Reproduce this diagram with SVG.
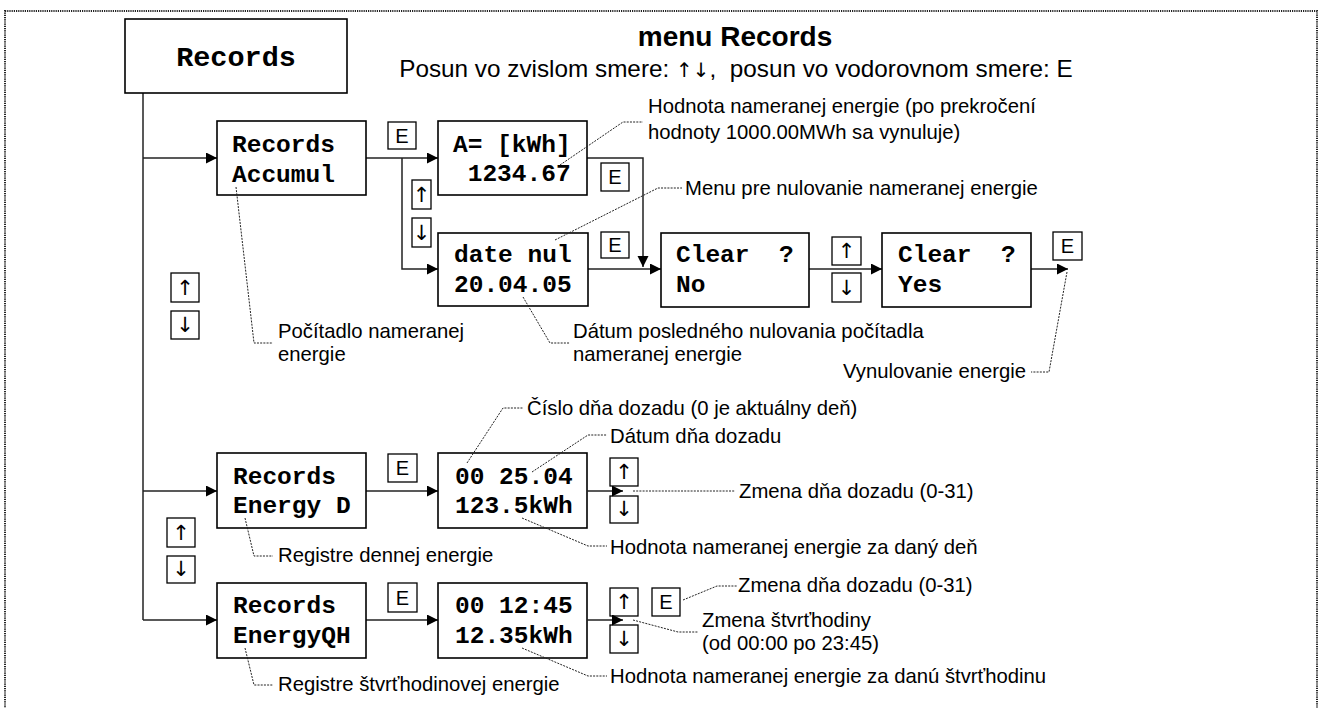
<svg xmlns="http://www.w3.org/2000/svg" width="1321" height="708" viewBox="0 0 1321 708">
<defs>
<marker id="ah" markerUnits="userSpaceOnUse" markerWidth="12" markerHeight="12" refX="11" refY="5.5" orient="auto">
<path d="M0,0 L11,5.5 L0,11 z" fill="#000"/>
</marker>
<style>
.box{fill:#fff;stroke:#000;stroke-width:1.6}
.btn{fill:#fff;stroke:#000;stroke-width:1.3}
.mono{font-family:"Liberation Mono","Courier New",monospace;font-weight:bold;font-size:24.5px;fill:#000}
.lbl{font-family:"Liberation Sans",Arial,sans-serif;font-size:20.3px;fill:#000}
.btxt{font-family:"Liberation Sans",Arial,sans-serif;font-size:20px;fill:#000;text-anchor:middle}
.arr{font-family:"DejaVu Sans",sans-serif;font-size:21px;fill:#000;text-anchor:middle}
.con{fill:none;stroke:#222;stroke-width:1.5}
.lead{fill:none;stroke:#222;stroke-width:1;stroke-dasharray:2,1.2}
</style>
</defs>
<rect x="5" y="11" width="1312" height="720" fill="none" stroke="#222" stroke-width="2" stroke-dasharray="1.2,1"/>

<g id="title">
<text x="735" y="46" font-family="Liberation Sans,Arial,sans-serif" font-weight="bold" font-size="28" text-anchor="middle">menu Records</text>
<text x="736" y="77" font-family="Liberation Sans,Arial,sans-serif" font-size="24.3" text-anchor="middle" xml:space="preserve">Posun vo zvislom smere: <tspan font-family="DejaVu Sans,sans-serif" font-size="20">↑↓</tspan>,  posun vo vodorovnom smere: E</text>
</g>

<g id="connectors">
<polyline class="con" points="143,93 143,620"/>
<line class="con" x1="143" y1="158" x2="217" y2="158" marker-end="url(#ah)"/>
<line class="con" x1="143" y1="491" x2="217" y2="491" marker-end="url(#ah)"/>
<line class="con" x1="143" y1="620" x2="217" y2="620" marker-end="url(#ah)"/>
<line class="con" x1="366" y1="158" x2="438" y2="158" marker-end="url(#ah)"/>
<polyline class="con" points="402,158 402,269 438,269" marker-end="url(#ah)"/>
<polyline class="con" points="587,158 643,158 643,267" marker-end="url(#ah)"/>
<line class="con" x1="588" y1="269" x2="661" y2="269" marker-end="url(#ah)"/>
<line class="con" x1="809" y1="269" x2="882" y2="269" marker-end="url(#ah)"/>
<line class="con" x1="1031" y1="269" x2="1068" y2="269" marker-end="url(#ah)"/>
<line class="con" x1="366" y1="491" x2="438" y2="491" marker-end="url(#ah)"/>
<line class="con" x1="366" y1="620" x2="438" y2="620" marker-end="url(#ah)"/>
</g>

<g id="n-records"><rect class="box" x="125" y="19" width="222" height="74"/>
<text x="236" y="66" font-family="Liberation Mono,Courier New,monospace" font-weight="bold" font-size="28.5" text-anchor="middle">Records</text></g>

<g id="n-accumul"><rect class="box" x="217" y="121" width="149" height="74"/>
<text class="mono" x="232" y="152">Records</text><text class="mono" x="232" y="182">Accumul</text></g>

<g id="n-akwh"><rect class="box" x="438" y="121" width="149" height="74"/>
<text class="mono" x="453" y="152" xml:space="preserve">A= [kWh]</text><text class="mono" x="453" y="181" xml:space="preserve"> 1234.67</text></g>

<g id="n-datenul"><rect class="box" x="438" y="233" width="150" height="73"/>
<text class="mono" x="454" y="262">date nul</text><text class="mono" x="454" y="292">20.04.05</text></g>

<g id="n-clearno"><rect class="box" x="661" y="233" width="148" height="74"/>
<text class="mono" x="676" y="262" xml:space="preserve">Clear  ?</text><text class="mono" x="676" y="292">No</text></g>

<g id="n-clearyes"><rect class="box" x="882" y="233" width="149" height="74"/>
<text class="mono" x="898" y="262" xml:space="preserve">Clear  ?</text><text class="mono" x="898" y="292">Yes</text></g>

<g id="n-energyd"><rect class="box" x="217" y="453" width="149" height="75"/>
<text class="mono" x="233" y="484">Records</text><text class="mono" x="233" y="513">Energy D</text></g>

<g id="n-dayval"><rect class="box" x="438" y="453" width="149" height="75"/>
<text class="mono" x="455" y="484">00 25.04</text><text class="mono" x="455" y="513">123.5kWh</text></g>

<g id="n-energyqh"><rect class="box" x="217" y="583" width="149" height="75"/>
<text class="mono" x="233" y="613">Records</text><text class="mono" x="233" y="643">EnergyQH</text></g>

<g id="n-qhval"><rect class="box" x="438" y="583" width="149" height="75"/>
<text class="mono" x="455" y="613">00 12:45</text><text class="mono" x="455" y="643">12.35kWh</text></g>

<g id="buttons">
<rect class="btn" x="388" y="122" width="28" height="27"/><text class="btxt" x="402" y="143">E</text>
<rect class="btn" x="601" y="163" width="28" height="28"/><text class="btxt" x="615" y="184">E</text>
<rect class="btn" x="601" y="232" width="28" height="26"/><text class="btxt" x="615" y="252">E</text>
<rect class="btn" x="1053" y="232" width="29" height="28"/><text class="btxt" x="1067.5" y="253">E</text>
<rect class="btn" x="388" y="454" width="29" height="28"/><text class="btxt" x="402.5" y="475">E</text>
<rect class="btn" x="388" y="583" width="29" height="29"/><text class="btxt" x="402.5" y="605">E</text>
<rect class="btn" x="652" y="588" width="28" height="28"/><text class="btxt" x="666" y="609">E</text>

<rect class="btn" x="171" y="273" width="28" height="29"/><text class="arr" x="185" y="295">↑</text>
<rect class="btn" x="171" y="311" width="28" height="28"/><text class="arr" x="185" y="332">↓</text>
<rect class="btn" x="167" y="518" width="28" height="29"/><text class="arr" x="181" y="540">↑</text>
<rect class="btn" x="167" y="556" width="28" height="27"/><text class="arr" x="181" y="576">↓</text>
<rect class="btn" x="412" y="180" width="19" height="29"/><text class="arr" x="421.5" y="202">↑</text>
<rect class="btn" x="412" y="218" width="19" height="29"/><text class="arr" x="421.5" y="240">↓</text>
<rect class="btn" x="832" y="237" width="29" height="28"/><text class="arr" x="846.5" y="258">↑</text>
<rect class="btn" x="832" y="273" width="29" height="29"/><text class="arr" x="846.5" y="295">↓</text>
<rect class="btn" x="610" y="458" width="28" height="28"/><text class="arr" x="624" y="479">↑</text>
<rect class="btn" x="610" y="496" width="28" height="27"/><text class="arr" x="624" y="516">↓</text>
<rect class="btn" x="610" y="588" width="28" height="28"/><text class="arr" x="624" y="609">↑</text>
<rect class="btn" x="610" y="625" width="28" height="28"/><text class="arr" x="624" y="646">↓</text>
</g>

<g id="connectors-exit">
<line class="con" x1="587" y1="491" x2="623" y2="491" marker-end="url(#ah)"/>
<line class="con" x1="587" y1="620" x2="623" y2="620" marker-end="url(#ah)"/>
</g>

<g id="leaders">
<polyline class="lead" points="560,165 623,122 643,122"/>
<polyline class="lead" points="555,240 658,188 682,188"/>
<polyline class="lead" points="236,187 254,343 273,343"/>
<polyline class="lead" points="523,297 550,343 570,343"/>
<polyline class="lead" points="1067,272 1049,372 1031,372"/>
<polyline class="lead" points="467,463 503,408 523,408"/>
<polyline class="lead" points="532,472 588,435 607,435"/>
<polyline class="lead" points="633,491 735,491"/>
<polyline class="lead" points="522,518 588,546 607,546"/>
<polyline class="lead" points="683,600 717,586 737,586"/>
<polyline class="lead" points="633,620 678,632 698,632"/>
<polyline class="lead" points="522,648 588,676 607,676"/>
<polyline class="lead" points="245,518 254,556 273,556"/>
<polyline class="lead" points="245,648 254,685 273,685"/>
</g>

<g id="labels">
<text class="lbl" x="648" y="113">Hodnota nameranej energie (po prekročení</text>
<text class="lbl" x="648" y="139">hodnoty 1000.00MWh sa vynuluje)</text>
<text class="lbl" x="685" y="195">Menu pre nulovanie nameranej energie</text>
<text class="lbl" x="278" y="338">Počítadlo nameranej</text>
<text class="lbl" x="278" y="361">energie</text>
<text class="lbl" x="573" y="338">Dátum posledného nulovania počítadla</text>
<text class="lbl" x="573" y="361">nameranej energie</text>
<text class="lbl" x="843" y="378">Vynulovanie energie</text>
<text class="lbl" x="527" y="415">Číslo dňa dozadu (0 je aktuálny deň)</text>
<text class="lbl" x="610" y="443">Dátum dňa dozadu</text>
<text class="lbl" x="739" y="498">Zmena dňa dozadu (0-31)</text>
<text class="lbl" x="610" y="554">Hodnota nameranej energie za daný deň</text>
<text class="lbl" x="278" y="562">Registre dennej energie</text>
<text class="lbl" x="738" y="592">Zmena dňa dozadu (0-31)</text>
<text class="lbl" x="702" y="627">Zmena štvrťhodiny</text>
<text class="lbl" x="702" y="650">(od 00:00 po 23:45)</text>
<text class="lbl" x="610" y="683">Hodnota nameranej energie za danú štvrťhodinu</text>
<text class="lbl" x="278" y="691">Registre štvrťhodinovej energie</text>
</g>
</svg>
